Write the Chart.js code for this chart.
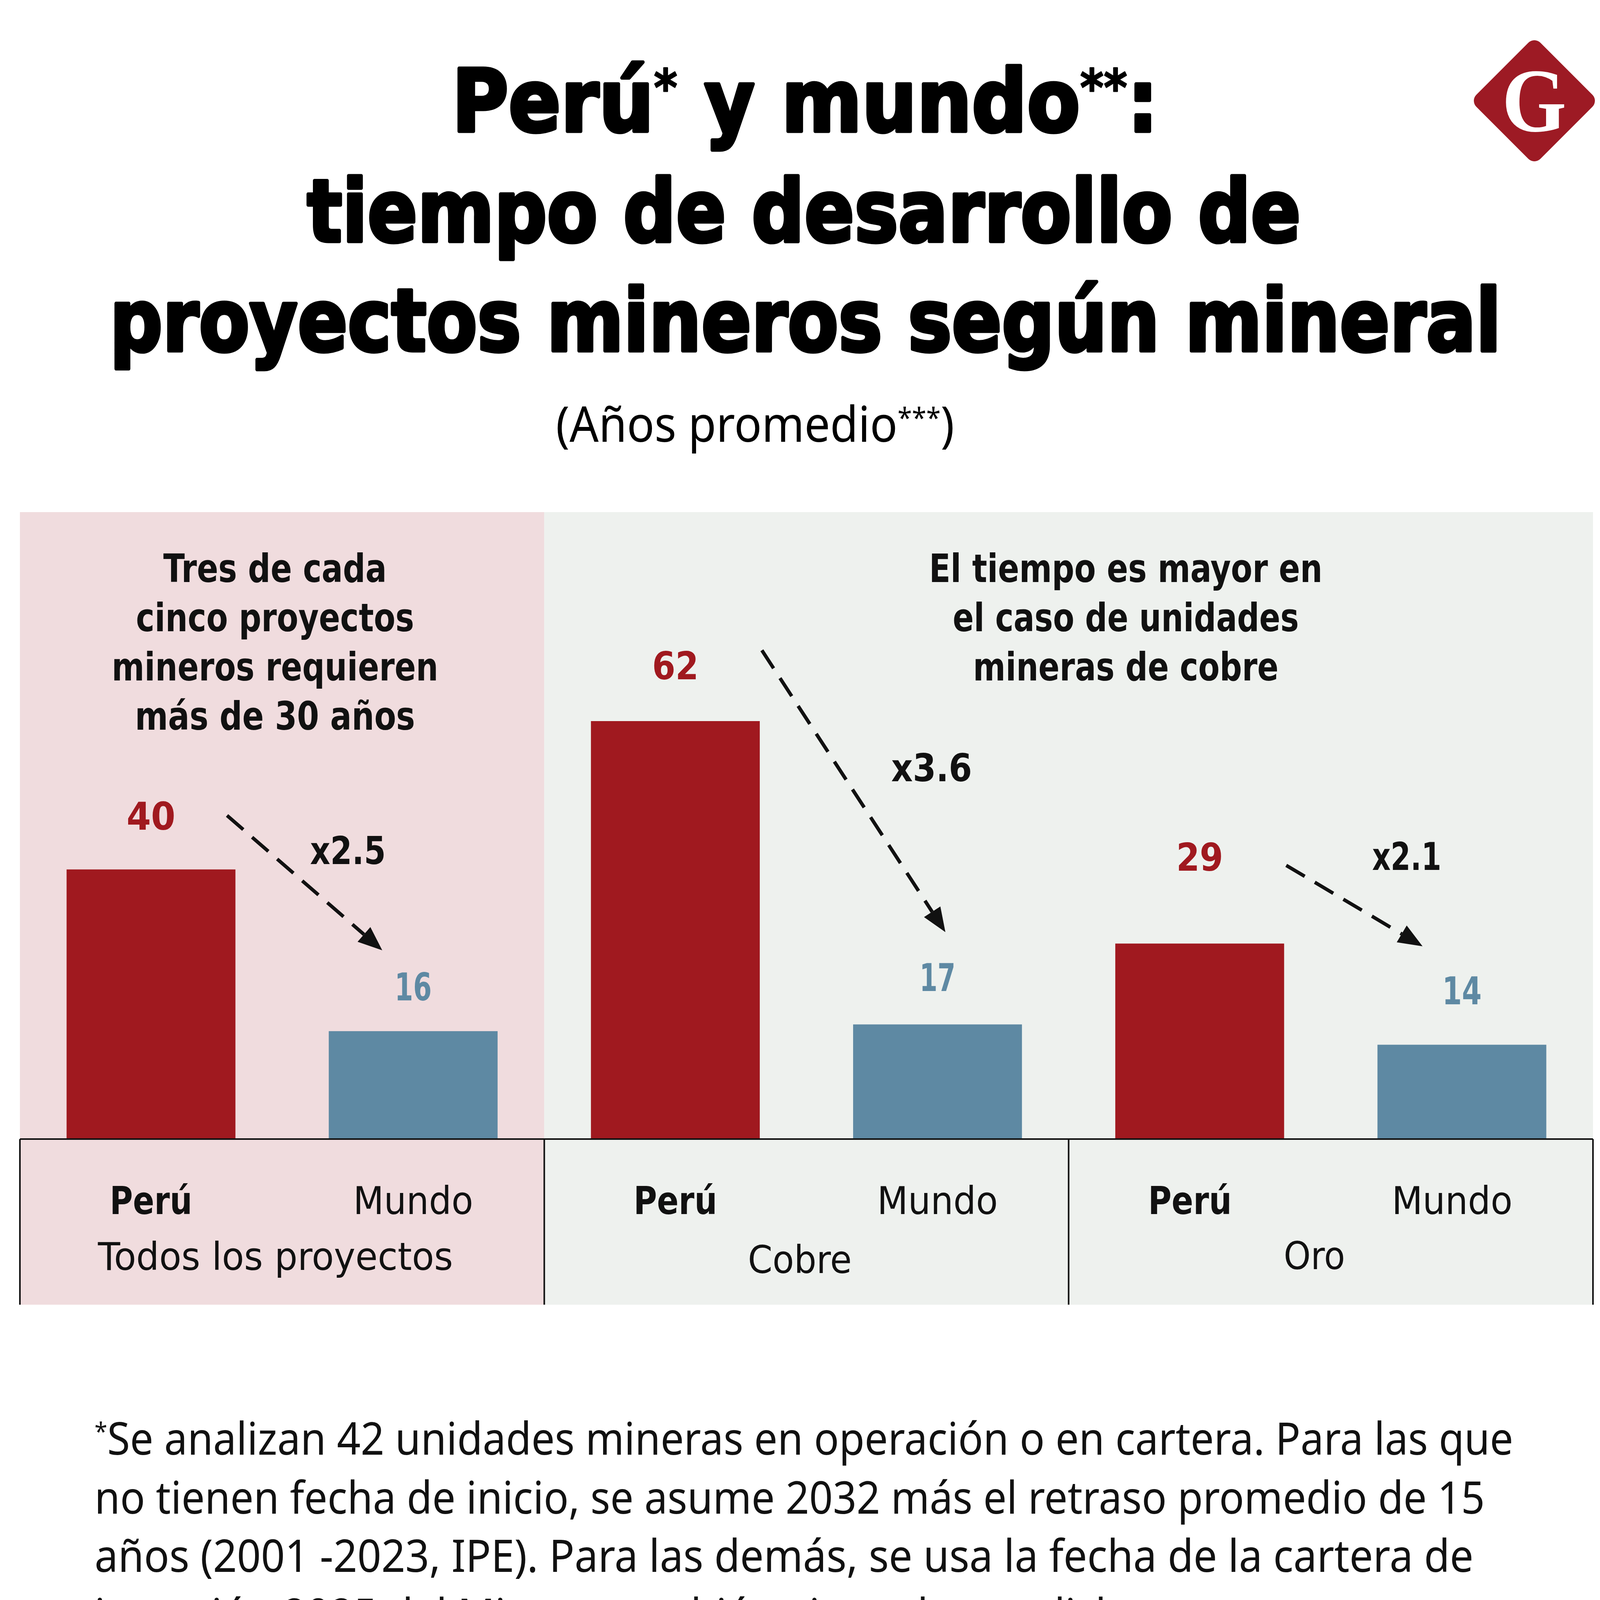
<!DOCTYPE html>
<html lang="es">
<head>
<meta charset="utf-8">
<title>Perú y mundo: tiempo de desarrollo de proyectos mineros</title>
<script src="https://cdn.jsdelivr.net/npm/chart.js@4.4.1/dist/chart.umd.min.js"></script>
<style>
  html, body { margin: 0; padding: 0; background: #fff; }
  body { width: 4150px; height: 5313px; position: relative; overflow: hidden; }
  #page { position: absolute; left: 0; top: 0; }
  #chartCanvas { position: absolute; left: 0; top: 1200px; width: 4150px; height: 2240px; }
</style>
</head>
<body>

<svg id="page" width="4150" height="5313" viewBox="0 0 4150 5313" xmlns="http://www.w3.org/2000/svg">
  <!-- logo -->
  <g transform="translate(3928,258) rotate(45)">
    <rect x="-116" y="-116" width="232" height="232" rx="22" fill="#9d1a24"/>
  </g>
  <text x="3845" y="336" font-family="'Liberation Serif', 'DejaVu Serif', serif" font-weight="bold" font-size="232" fill="#fff" textLength="165" lengthAdjust="spacingAndGlyphs">G</text>

  <!-- title -->
  <g font-family="'DejaVu Sans', sans-serif" font-weight="bold" font-size="222" fill="#000" stroke="#000" stroke-width="9" stroke-linejoin="round">
    <text x="1157" y="336" textLength="1808" lengthAdjust="spacingAndGlyphs">Perú<tspan font-size="130" dy="-66" stroke-width="3">*</tspan><tspan font-size="222" dy="66"> y mundo</tspan><tspan font-size="130" dy="-66" stroke-width="3">**</tspan><tspan font-size="222" dy="66">:</tspan></text>
    <text x="786" y="618" textLength="2544" lengthAdjust="spacingAndGlyphs">tiempo de desarrollo de</text>
    <text x="281" y="898" textLength="3562" lengthAdjust="spacingAndGlyphs">proyectos mineros según mineral</text>
  </g>
  <text x="1423" y="1131" font-family="'Noto Sans', sans-serif" font-size="126" fill="#000" textLength="1020" lengthAdjust="spacingAndGlyphs">(Años promedio<tspan font-size="72" dy="-36">***</tspan><tspan font-size="126" dy="36">)</tspan></text>

  <!-- footnotes -->
  <g font-family="'Noto Sans', sans-serif" font-size="115" fill="#111">
    <text x="242" y="3724" textLength="3632" lengthAdjust="spacingAndGlyphs"><tspan font-size="64" dy="-36">*</tspan><tspan font-size="115" dy="36">Se analizan 42 unidades mineras en operación o en cartera. Para las que</tspan></text>
    <text x="242" y="3875" textLength="3559" lengthAdjust="spacingAndGlyphs">no tienen fecha de inicio, se asume 2032 más el retraso promedio de 15</text>
    <text x="242" y="4024" textLength="3530" lengthAdjust="spacingAndGlyphs">años (2001 -2023, IPE). Para las demás, se usa la fecha de la cartera de</text>
    <text x="242" y="4175" textLength="3100" lengthAdjust="spacingAndGlyphs">inversión 2025 del Minem, también ajustada por dicho retraso.</text>
    <text x="242" y="4326" textLength="3654" lengthAdjust="spacingAndGlyphs"><tspan font-size="64" dy="-36">**</tspan><tspan font-size="115" dy="36">Se considera 214 unidades en operación desde 1990 o en desarrollo.</tspan></text>
    <text x="242" y="4474" textLength="3489" lengthAdjust="spacingAndGlyphs"><tspan font-size="64" dy="-36">**</tspan><tspan font-size="115" dy="36">&#160;Promedio ponderado con producción efectiva o estimada para el</tspan></text>
    <text x="242" y="4624" textLength="1067" lengthAdjust="spacingAndGlyphs">análisis por metales.</text>
  </g>

  <line x1="0" y1="4781" x2="4150" y2="4781" stroke="#8c8c8c" stroke-width="4"/>
  <text x="245" y="5051" font-family="'Noto Sans', sans-serif" font-size="120" fill="#111" textLength="2398" lengthAdjust="spacingAndGlyphs">FUENTE: IPE, S&amp;P Global&#160;&#160;&#160;ELABORACIÓN: IPE</text>
</svg>

<canvas id="chartCanvas" width="4150" height="2240"></canvas>

<script>
// datos
const categories = ['Todos los proyectos', 'Cobre', 'Oro'];
const seriesNames = ['Perú', 'Mundo'];
const peruYears = [40, 62, 29];
const mundoYears = [16, 17, 14];
const multipliers = ['x2.5', 'x3.6', 'x2.1'];
const noteTodos = ['Tres de cada', 'cinco proyectos', 'mineros requieren', 'más de 30 años'];
const noteCobre = ['El tiempo es mayor en', 'el caso de unidades', 'mineras de cobre'];

const RED = '#a0191f';
const BLUE = '#5e89a3';
const INK = '#111111';
const wideFont = '"DejaVu Sans", sans-serif';
const narrowFont = '"Liberation Sans Narrow", "DejaVu Sans Condensed", sans-serif';
const panelFont = [wideFont, narrowFont, narrowFont];

function fitText(ctx, str, x, y, w, font, color) {
    ctx.save();
    ctx.font = font;
    ctx.fillStyle = color;
    ctx.textAlign = 'center';
    ctx.textBaseline = 'alphabetic';
    const m = ctx.measureText(str).width;
    ctx.translate(x, y);
    ctx.scale(w / m, 1);
    ctx.fillText(str, 0, 0);
    ctx.restore();
}

function dashedArrow(ctx, x0, y0, x1, y1) {
    const ang = Math.atan2(y1 - y0, x1 - x0);
    const head = 62, hw = 25;
    const bx = x1 - head * Math.cos(ang);
    const by = y1 - head * Math.sin(ang);
    ctx.save();
    ctx.strokeStyle = INK;
    ctx.fillStyle = INK;
    ctx.lineWidth = 9;
    ctx.setLineDash([55, 30]);
    ctx.beginPath();
    ctx.moveTo(x0, y0);
    ctx.lineTo(bx, by);
    ctx.stroke();
    ctx.setLineDash([]);
    ctx.beginPath();
    ctx.moveTo(x1, y1);
    ctx.lineTo(bx + hw * Math.sin(ang), by - hw * Math.cos(ang));
    ctx.lineTo(bx - hw * Math.sin(ang), by + hw * Math.cos(ang));
    ctx.closePath();
    ctx.fill();
    ctx.restore();
}

const panelDecor = {
    id: 'panelDecor',
    beforeDatasetsDraw(chart, args, opts) {
        const ctx = chart.ctx;
        const area = chart.chartArea;
        const x = chart.scales.x;
        const catW = (area.right - area.left) / categories.length;
        const split = x.getPixelForValue(0) + catW / 2;
        ctx.save();
        ctx.fillStyle = '#f0dcde';
        ctx.fillRect(area.left, area.top, split - area.left, opts.panelBottom - area.top);
        ctx.fillStyle = '#eef1ee';
        ctx.fillRect(split, area.top, area.right - split, opts.panelBottom - area.top);
        ctx.restore();
    },
    afterDatasetsDraw(chart, args, opts) {
        const ctx = chart.ctx;
        const area = chart.chartArea;
        const x = chart.scales.x;
        const y = chart.scales.y;
        const catW = (area.right - area.left) / categories.length;
        const peruMeta = chart.getDatasetMeta(0);
        const mundoMeta = chart.getDatasetMeta(1);

        // ejes y divisiones
        ctx.save();
        ctx.strokeStyle = INK;
        ctx.lineWidth = 4;
        ctx.beginPath();
        ctx.moveTo(area.left, area.bottom);
        ctx.lineTo(area.right, area.bottom);
        for (let i = 0; i <= categories.length; i++) {
            const px = area.left + catW * i;
            ctx.moveTo(px, area.bottom);
            ctx.lineTo(px, opts.panelBottom);
        }
        ctx.stroke();
        ctx.restore();

        for (let i = 0; i < categories.length; i++) {
            const f = panelFont[i];
            const cx = x.getPixelForValue(i);
            const pBar = peruMeta.data[i];
            const mBar = mundoMeta.data[i];

            // valores
            fitText(ctx, String(peruYears[i]), pBar.x, pBar.y - opts.peruGap[i], opts.peruValW[i], 'bold 98px ' + f, RED);
            fitText(ctx, String(mundoYears[i]), mBar.x, mBar.y - opts.mundoGap[i], opts.mundoValW[i], 'bold 98px ' + f, BLUE);

            // etiquetas del eje
            fitText(ctx, seriesNames[0], pBar.x + opts.tickShift[i], opts.tickY, opts.peruTickW[i], 'bold 98px ' + f, INK);
            fitText(ctx, seriesNames[1], mBar.x + opts.tickShift[i], opts.tickY, opts.mundoTickW[i], '98px ' + f, INK);
            fitText(ctx, categories[i], cx + opts.groupShift[i], opts.groupY[i], opts.groupW[i], '98px ' + f, INK);

            // flecha y multiplicador
            const x0 = pBar.x + opts.arrowFromDx[i] * catW;
            const y0 = y.getPixelForValue(peruYears[i] + opts.arrowFromLift[i]);
            const x1 = mBar.x + opts.arrowToDx[i] * catW;
            const y1 = y.getPixelForValue(mundoYears[i] + opts.arrowToLift[i]);
            dashedArrow(ctx, x0, y0, x1, y1);
            fitText(ctx, multipliers[i], cx + opts.multDx[i] * catW, y.getPixelForValue(opts.multAt[i]), opts.multW[i], 'bold 98px ' + f, INK);
        }

        // notas
        noteTodos.forEach((line, k) => {
            fitText(ctx, line, opts.noteTodosX, opts.noteTop + k * 126, opts.noteTodosW[k], 'bold 99px ' + wideFont, INK);
        });
        noteCobre.forEach((line, k) => {
            fitText(ctx, line, opts.noteCobreX, opts.noteTop + k * 126, opts.noteCobreW[k], 'bold 99px ' + narrowFont, INK);
        });
    }
};

new Chart(document.getElementById('chartCanvas'), {
    type: 'bar',
    data: {
        labels: categories,
        datasets: [
            { label: seriesNames[0], data: peruYears, backgroundColor: RED },
            { label: seriesNames[1], data: mundoYears, backgroundColor: BLUE }
        ]
    },
    options: {
        responsive: false,
        animation: false,
        devicePixelRatio: 1,
        categoryPercentage: 1.0,
        barPercentage: 0.644,
        layout: { padding: { left: 51, right: 72, top: 111, bottom: 524 } },
        scales: {
            x: { display: false },
            y: { display: false, min: 0, max: 93 }
        },
        plugins: {
            legend: { display: false },
            tooltip: { enabled: false },
            panelDecor: {
                panelBottom: 2140,
                peruGap: [102, 107, 187],
                mundoGap: [79, 86, 103],
                peruValW: [125, 119, 120],
                mundoValW: [95, 92, 101],
                tickY: 1908,
                tickShift: [0, 0, -25],
                peruTickW: [211, 214, 214],
                mundoTickW: [307, 309, 309],
                groupShift: [-17, -17, -42],
                groupY: [2051, 2059, 2049],
                groupW: [909, 266, 157],
                arrowFromDx: [0.145, 0.165, 0.165],
                arrowFromLift: [8, 10.5, 11.6],
                arrowToDx: [-0.059, 0.015, -0.075],
                arrowToLift: [12, 13.7, 14.6],
                multDx: [0.1255, 0.2387, 0.1449],
                multAt: [40.8, 53.1, 39.9],
                multW: [194, 207, 177],
                noteTop: 290,
                noteTodosX: 704,
                noteTodosW: [572, 712, 836, 717],
                noteCobreX: 2882,
                noteCobreW: [1007, 886, 782]
            }
        }
    },
    plugins: [panelDecor]
});
</script>
</body>
</html>
